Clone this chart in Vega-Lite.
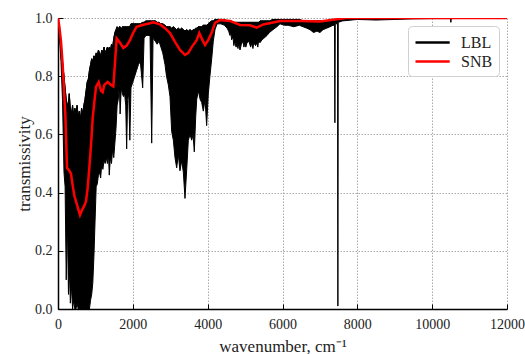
{
  "$schema": "https://vega.github.io/schema/vega-lite/v6.json",
  "width": 449,
  "height": 291,
  "autosize": {"type": "none"},
  "padding": {"left": 58, "top": 18, "right": 18, "bottom": 45},
  "background": "white",
  "config": {
    "font": "Liberation Serif",
    "view": {"stroke": null},
    "axis": {
      "labelFont": "Liberation Serif",
      "titleFont": "Liberation Serif",
      "labelFontSize": 14,
      "titleFontSize": 17,
      "titleFontWeight": "normal",
      "labelColor": "#222",
      "titleColor": "#222",
      "domainColor": "black",
      "domainWidth": 1.5,
      "tickColor": "black",
      "tickSize": -5,
      "tickWidth": 1
    },
    "legend": {
      "labelFont": "Liberation Serif",
      "labelFontSize": 16,
      "labelColor": "#222"
    }
  },
  "datasets": {
    "lbl": [
      {"w":0,"lo":1.0,"hi":1.0},{"w":40,"lo":0.93,"hi":0.96},{"w":80,"lo":0.85,"hi":0.92},{"w":120,"lo":0.72,"hi":0.85},
      {"w":160,"lo":0.47,"hi":0.8},{"w":190,"lo":0.42,"hi":0.76},{"w":220,"lo":0.1,"hi":0.72},{"w":250,"lo":0.3,"hi":0.7},
      {"w":280,"lo":0.05,"hi":0.71},{"w":300,"lo":0.15,"hi":0.74},{"w":330,"lo":0.02,"hi":0.69},{"w":360,"lo":0.08,"hi":0.67},
      {"w":390,"lo":0.0,"hi":0.7},{"w":420,"lo":0.03,"hi":0.66},{"w":450,"lo":0.0,"hi":0.69},{"w":480,"lo":0.0,"hi":0.67},
      {"w":510,"lo":0.02,"hi":0.7},{"w":540,"lo":0.0,"hi":0.66},{"w":570,"lo":0.0,"hi":0.68},{"w":600,"lo":0.0,"hi":0.65},
      {"w":630,"lo":0.0,"hi":0.69},{"w":660,"lo":0.0,"hi":0.67},{"w":690,"lo":0.0,"hi":0.7},{"w":720,"lo":0.0,"hi":0.72},
      {"w":750,"lo":0.0,"hi":0.75},{"w":780,"lo":0.0,"hi":0.78},{"w":810,"lo":0.0,"hi":0.79},{"w":840,"lo":0.0,"hi":0.82},
      {"w":870,"lo":0.03,"hi":0.84},{"w":900,"lo":0.05,"hi":0.86},{"w":930,"lo":0.09,"hi":0.85},{"w":960,"lo":0.18,"hi":0.87},
      {"w":990,"lo":0.3,"hi":0.86},{"w":1020,"lo":0.42,"hi":0.88},{"w":1050,"lo":0.43,"hi":0.87},{"w":1080,"lo":0.46,"hi":0.89},
      {"w":1110,"lo":0.47,"hi":0.88},{"w":1140,"lo":0.45,"hi":0.87},{"w":1170,"lo":0.5,"hi":0.89},{"w":1200,"lo":0.48,"hi":0.88},
      {"w":1230,"lo":0.51,"hi":0.9},{"w":1260,"lo":0.5,"hi":0.88},{"w":1290,"lo":0.52,"hi":0.89},{"w":1320,"lo":0.5,"hi":0.9},
      {"w":1350,"lo":0.53,"hi":0.89},{"w":1370,"lo":0.46,"hi":0.9},{"w":1400,"lo":0.52,"hi":0.89},{"w":1430,"lo":0.5,"hi":0.91},
      {"w":1460,"lo":0.55,"hi":0.9},{"w":1490,"lo":0.52,"hi":0.93},{"w":1520,"lo":0.57,"hi":0.95},{"w":1550,"lo":0.62,"hi":0.96},
      {"w":1580,"lo":0.7,"hi":0.97},{"w":1610,"lo":0.72,"hi":0.96},{"w":1640,"lo":0.77,"hi":0.97},{"w":1660,"lo":0.67,"hi":0.97},
      {"w":1690,"lo":0.76,"hi":0.96},{"w":1720,"lo":0.74,"hi":0.97},{"w":1750,"lo":0.73,"hi":0.97},{"w":1780,"lo":0.74,"hi":0.97},
      {"w":1810,"lo":0.7,"hi":0.97},{"w":1835,"lo":0.55,"hi":0.97},{"w":1860,"lo":0.72,"hi":0.97},{"w":1890,"lo":0.74,"hi":0.97},
      {"w":1920,"lo":0.58,"hi":0.97},{"w":1950,"lo":0.76,"hi":0.98},{"w":2000,"lo":0.78,"hi":0.98},{"w":2050,"lo":0.8,"hi":0.98},
      {"w":2100,"lo":0.82,"hi":0.98},{"w":2150,"lo":0.84,"hi":0.98},{"w":2200,"lo":0.85,"hi":0.98},{"w":2263,"lo":0.76,"hi":0.985},
      {"w":2300,"lo":0.93,"hi":0.985},{"w":2350,"lo":0.94,"hi":0.99},{"w":2400,"lo":0.94,"hi":0.99},{"w":2460,"lo":0.94,"hi":0.99},
      {"w":2504,"lo":0.57,"hi":0.99},{"w":2540,"lo":0.93,"hi":0.99},{"w":2600,"lo":0.92,"hi":0.99},{"w":2650,"lo":0.91,"hi":0.985},
      {"w":2700,"lo":0.92,"hi":0.985},{"w":2750,"lo":0.9,"hi":0.98},{"w":2800,"lo":0.88,"hi":0.98},{"w":2860,"lo":0.84,"hi":0.975},
      {"w":2900,"lo":0.8,"hi":0.97},{"w":2949,"lo":0.77,"hi":0.97},{"w":2993,"lo":0.73,"hi":0.97},{"w":3038,"lo":0.61,"hi":0.965},
      {"w":3083,"lo":0.58,"hi":0.97},{"w":3127,"lo":0.52,"hi":0.965},{"w":3172,"lo":0.485,"hi":0.96},{"w":3216,"lo":0.53,"hi":0.965},
      {"w":3260,"lo":0.475,"hi":0.96},{"w":3306,"lo":0.51,"hi":0.965},{"w":3350,"lo":0.47,"hi":0.96},{"w":3394,"lo":0.38,"hi":0.955},
      {"w":3440,"lo":0.48,"hi":0.96},{"w":3483,"lo":0.58,"hi":0.955},{"w":3528,"lo":0.6,"hi":0.96},{"w":3573,"lo":0.58,"hi":0.955},
      {"w":3610,"lo":0.6,"hi":0.96},{"w":3643,"lo":0.54,"hi":0.96},{"w":3680,"lo":0.66,"hi":0.965},{"w":3707,"lo":0.72,"hi":0.965},
      {"w":3750,"lo":0.75,"hi":0.97},{"w":3800,"lo":0.72,"hi":0.97},{"w":3840,"lo":0.71,"hi":0.97},{"w":3884,"lo":0.68,"hi":0.975},
      {"w":3930,"lo":0.72,"hi":0.975},{"w":3973,"lo":0.63,"hi":0.975},{"w":4017,"lo":0.74,"hi":0.98},{"w":4060,"lo":0.8,"hi":0.985},
      {"w":4108,"lo":0.86,"hi":0.99},{"w":4150,"lo":0.92,"hi":0.99},{"w":4196,"lo":0.96,"hi":0.995},{"w":4250,"lo":0.98,"hi":0.995},
      {"w":4350,"lo":0.98,"hi":0.995},{"w":4450,"lo":0.975,"hi":0.995},{"w":4520,"lo":0.965,"hi":0.99},{"w":4560,"lo":0.955,"hi":0.99},
      {"w":4597,"lo":0.94,"hi":0.99},{"w":4620,"lo":0.95,"hi":0.99},
      {"w":4640,"lo":0.925,"hi":0.99},{"w":4677,"lo":0.935,"hi":0.985},{"w":4700,"lo":0.905,"hi":0.985},{"w":4720,"lo":0.92,"hi":0.985},{"w":4760,"lo":0.9,"hi":0.985},
      {"w":4784,"lo":0.915,"hi":0.985},{"w":4810,"lo":0.895,"hi":0.985},{"w":4830,"lo":0.915,"hi":0.985},{"w":4864,"lo":0.89,"hi":0.985},{"w":4900,"lo":0.91,"hi":0.985},
      {"w":4944,"lo":0.92,"hi":0.985},{"w":4970,"lo":0.9,"hi":0.985},{"w":4990,"lo":0.915,"hi":0.985},{"w":5020,"lo":0.9,"hi":0.985},{"w":5051,"lo":0.915,"hi":0.985},{"w":5100,"lo":0.92,"hi":0.985},
      {"w":5150,"lo":0.9,"hi":0.985},{"w":5185,"lo":0.915,"hi":0.985},{"w":5210,"lo":0.895,"hi":0.985},{"w":5230,"lo":0.915,"hi":0.985},{"w":5280,"lo":0.905,"hi":0.985},
      {"w":5318,"lo":0.915,"hi":0.985},{"w":5340,"lo":0.9,"hi":0.985},{"w":5360,"lo":0.92,"hi":0.985},{"w":5399,"lo":0.915,"hi":0.99},{"w":5450,"lo":0.925,"hi":0.99},
      {"w":5500,"lo":0.93,"hi":0.99},{"w":5586,"lo":0.94,"hi":0.99},{"w":5650,"lo":0.95,"hi":0.99},{"w":5746,"lo":0.96,"hi":0.995},
      {"w":5850,"lo":0.97,"hi":0.995},{"w":5933,"lo":0.98,"hi":0.995},{"w":6050,"lo":0.975,"hi":0.995},{"w":6150,"lo":0.975,"hi":0.995},
      {"w":6300,"lo":0.97,"hi":0.995},{"w":6450,"lo":0.975,"hi":0.995},{"w":6548,"lo":0.97,"hi":0.99},{"w":6650,"lo":0.965,"hi":0.99},
      {"w":6735,"lo":0.96,"hi":0.99},{"w":6830,"lo":0.95,"hi":0.99},{"w":6922,"lo":0.955,"hi":0.99},{"w":7000,"lo":0.95,"hi":0.99},
      {"w":7083,"lo":0.96,"hi":0.99},{"w":7180,"lo":0.965,"hi":0.99},{"w":7270,"lo":0.97,"hi":0.995},{"w":7350,"lo":0.975,"hi":0.995},
      {"w":7390,"lo":0.975,"hi":0.995},{"w":7400,"lo":0.64,"hi":0.995},{"w":7410,"lo":0.98,"hi":0.995},{"w":7470,"lo":0.98,"hi":0.995},
      {"w":7480,"lo":0.01,"hi":0.995},{"w":7490,"lo":0.985,"hi":0.998},{"w":7600,"lo":0.99,"hi":1.0},{"w":8000,"lo":0.995,"hi":1.0},
      {"w":8500,"lo":0.993,"hi":1.0},{"w":9000,"lo":0.995,"hi":1.0},{"w":9500,"lo":0.997,"hi":1.0},{"w":10000,"lo":0.998,"hi":1.0},
      {"w":10490,"lo":0.998,"hi":1.0},{"w":10500,"lo":0.985,"hi":1.0},{"w":10510,"lo":0.998,"hi":1.0},{"w":11000,"lo":0.999,"hi":1.0},
      {"w":12000,"lo":1.0,"hi":1.0}
    ],
    "snb": [
      {"w":0,"t":1.0},{"w":36,"t":0.97},{"w":80,"t":0.92},{"w":125,"t":0.84},{"w":196,"t":0.667},{"w":241,"t":0.485},
      {"w":302,"t":0.475},{"w":347,"t":0.465},{"w":392,"t":0.425},{"w":436,"t":0.39},{"w":525,"t":0.35},{"w":588,"t":0.323},
      {"w":641,"t":0.34},{"w":704,"t":0.355},{"w":748,"t":0.37},{"w":793,"t":0.416},{"w":837,"t":0.485},{"w":882,"t":0.563},
      {"w":927,"t":0.656},{"w":970,"t":0.71},{"w":1016,"t":0.763},{"w":1087,"t":0.78},{"w":1149,"t":0.75},{"w":1194,"t":0.745},
      {"w":1238,"t":0.77},{"w":1327,"t":0.78},{"w":1416,"t":0.77},{"w":1480,"t":0.765},{"w":1568,"t":0.93},{"w":1657,"t":0.915},
      {"w":1746,"t":0.897},{"w":1835,"t":0.905},{"w":1924,"t":0.924},{"w":2013,"t":0.95},{"w":2102,"t":0.97},{"w":2280,"t":0.977},
      {"w":2459,"t":0.982},{"w":2548,"t":0.985},{"w":2726,"t":0.978},{"w":2860,"t":0.965},{"w":2993,"t":0.948},{"w":3127,"t":0.918},
      {"w":3260,"t":0.89},{"w":3394,"t":0.873},{"w":3483,"t":0.88},{"w":3573,"t":0.9},{"w":3707,"t":0.924},{"w":3777,"t":0.948},
      {"w":3840,"t":0.93},{"w":3929,"t":0.907},{"w":4017,"t":0.925},{"w":4108,"t":0.95},{"w":4196,"t":0.983},{"w":4330,"t":0.993},
      {"w":4597,"t":0.99},{"w":4864,"t":0.976},{"w":5131,"t":0.975},{"w":5310,"t":0.967},{"w":5488,"t":0.978},{"w":5933,"t":0.99},
      {"w":6500,"t":0.99},{"w":7000,"t":0.988},{"w":7300,"t":0.993},{"w":7700,"t":1.0},{"w":12000,"t":1.0}
    ]
  },
  "encoding": {
    "x": {
      "field": "w", "type": "quantitative",
      "scale": {"domain": [0, 12000], "nice": false, "zero": false},
      "axis": {"values": [0, 2000, 4000, 6000, 8000, 10000, 12000], "format": "d", "title": "wavenumber, cm⁻¹", "labelPadding": 13, "titlePadding": 7, "labelFlush": false,
        "grid": true, "gridColor": "#aaaaaa", "gridDash": [1.5, 1.5], "gridWidth": 1, "gridOpacity": 1}
    }
  },
  "layer": [
    {
      "data": {"name": "lbl"},
      "mark": {"type": "area", "fill": "black", "stroke": "black", "strokeWidth": 1, "clip": true, "interpolate": "linear"},
      "encoding": {
        "y": {"field": "lo", "type": "quantitative",
          "scale": {"domain": [0, 1], "nice": false},
          "axis": {"values": [0, 0.2, 0.4, 0.6, 0.8, 1.0], "format": ".1f", "title": "transmissivity", "labelPadding": 11, "titlePadding": 1,
            "grid": true, "gridColor": "#aaaaaa", "gridDash": [1.5, 1.5], "gridWidth": 1, "gridOpacity": 1}},
        "y2": {"field": "hi"}
      }
    },
    {
      "data": {"name": "lbl"},
      "mark": {"type": "line", "strokeWidth": 1, "clip": true},
      "encoding": {
        "y": {"field": "hi", "type": "quantitative"},
        "color": {"datum": "LBL", "type": "nominal"}
      }
    },
    {
      "data": {"name": "snb"},
      "mark": {"type": "line", "strokeWidth": 2.5, "clip": true},
      "encoding": {
        "y": {"field": "t", "type": "quantitative"},
        "color": {"datum": "SNB", "type": "nominal",
          "scale": {"domain": ["LBL", "SNB"], "range": ["black", "#ff0000"]},
          "legend": {
            "title": null,
            "orient": "top-right",
            "offset": 8,
            "symbolType": "M-1,0H2.8",
            "symbolSize": 324,
            "symbolStrokeWidth": 2.5,
            "symbolFillColor": "transparent",
            "fillColor": "white",
            "strokeColor": "#d0d0d0",
            "cornerRadius": 4,
            "padding": 6,
            "rowPadding": 0,
            "labelOffset": 26
          }
        }
      }
    }
  ]
}
